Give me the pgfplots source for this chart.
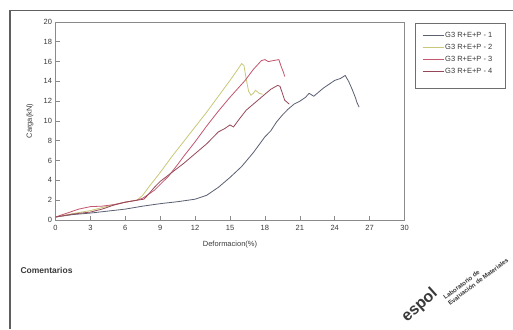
\documentclass[border=0pt]{standalone}
\usepackage{pgfplots}
\pgfplotsset{compat=1.18}
\usepackage{fontspec}
\setmainfont{Liberation Sans}
\definecolor{sOne}{HTML}{5A5F72}
\definecolor{sTwo}{HTML}{C8C878}
\definecolor{sThree}{HTML}{C4566E}
\definecolor{sFour}{HTML}{96485A}
\definecolor{axc}{HTML}{8A8A8A}
\definecolor{txt}{HTML}{3A3A3A}
\begin{document}
\begin{tikzpicture}[x=1pt,y=1pt]
\useasboundingbox (0,0) rectangle (513,329);
\fill[white] (0,0) rectangle (513,329);
\draw[color={rgb,255:red,95;green,95;blue,95}, line width=1.1pt] (10,0) -- (10,318.5) -- (513,318.5);
\begin{axis}[
  at={(55.5pt,109pt)}, anchor=south west,
  scale only axis, width=349pt, height=198pt,
  xmin=0, xmax=30, ymin=0, ymax=20,
  xtick={0,3,...,30}, ytick={0,2,...,20},
  axis line style={axc, line width=0.6pt},
  major tick style={axc, line width=0.6pt},
  major tick length=4pt,
  tick align=inside,
  xtick pos=bottom, ytick pos=left,
  ticklabel style={font=\fontsize{7.5}{9}\selectfont, text=txt},
  /pgf/number format/assume math mode=true,
  xticklabel style={yshift=-1.5pt},
  xlabel={Deformacion(\%)}, ylabel={Carga(kN)},
  label style={font=\fontsize{7.5}{9}\selectfont, text=txt},
  xlabel style={at={(axis description cs:0.5,0)}, anchor=center, yshift=-25pt},
  ylabel style={at={(axis description cs:0,0.5)}, anchor=center, yshift=25.5pt},
  legend style={at={(axis description cs:1.0501,0.955)}, anchor=north west, draw=none, fill=none,
    font=\fontsize{7.5}{9}\selectfont, text=txt, row sep=3pt, inner sep=0pt,
    nodes={text height=5.5pt, text depth=1pt, inner sep=1.2pt}},
  legend cell align=left,
  legend image code/.code={\draw[#1] (0pt,0pt) -- (21pt,0pt);},
]
\addplot[sOne, line width=0.8pt] coordinates {
(0,0.3)(1.5,0.55)(3,0.7)(4.5,0.9)(6,1.1)(7.5,1.4)(9,1.65)(10.5,1.85)(12,2.1)(13,2.5)
(14,3.3)(15,4.3)(16,5.4)(16.5,6.1)(17,6.8)(17.5,7.6)(18,8.4)(18.5,9.0)(19,9.9)(19.5,10.6)(20,11.2)
(20.5,11.7)(21,12.0)(21.5,12.4)(21.8,12.8)(22.2,12.5)(22.6,12.9)(23,13.3)(23.5,13.7)(24,14.1)(24.5,14.3)(24.9,14.6)
(25.2,14.0)(25.5,13.2)(25.8,12.3)(25.9,11.9)(26.1,11.4)};
\addlegendentry{G3 R+E+P - 1}
\addplot[sTwo, line width=0.8pt] coordinates {
(0,0.3)(1.5,0.65)(3,0.95)(4.5,1.4)(6,1.8)(7,2.0)(7.5,2.5)(8,3.3)(9,4.8)(10,6.4)(11,7.9)
(12,9.4)(13,10.9)(14,12.5)(15,14.1)(15.6,15.1)(16.0,15.8)(16.2,15.6)(16.4,14.2)(16.6,13.0)(16.8,12.6)
(17.0,12.8)(17.2,13.1)(17.5,12.8)(17.8,12.7)};
\addlegendentry{G3 R+E+P  - 2}
\addplot[sThree, line width=0.8pt] coordinates {
(0,0.3)(1,0.7)(2,1.1)(3,1.35)(4,1.4)(5,1.55)(6,1.8)(7,2.0)(7.5,2.2)(8,2.6)(8.5,3.0)(9,3.6)(9.7,4.4)
(10.5,5.6)(11,6.4)(12,7.9)(13,9.5)(14,11.0)(15,12.4)(16.3,14.1)(17,15.2)(17.7,16.1)(18.0,16.2)(18.3,16.0)
(18.7,16.1)(19.2,16.2)(19.4,15.5)(19.6,14.9)(19.7,14.5)};
\addlegendentry{G3 R+E+P - 3}
\addplot[sFour, line width=0.8pt] coordinates {
(0,0.3)(1.5,0.6)(3,0.8)(4,1.1)(5,1.5)(6,1.8)(7,2.0)(7.6,2.1)(8,2.6)(8.5,3.3)(9,3.9)(10,4.8)(11,5.7)
(12,6.7)(13,7.7)(14,8.9)(14.5,9.2)(15.0,9.6)(15.3,9.4)(15.8,10.2)(16.4,11.1)(17,11.7)(17.8,12.5)
(18.5,13.2)(19.1,13.6)(19.3,13.5)(19.5,12.8)(19.7,12.1)(20.0,11.8)(20.1,11.7)};
\addlegendentry{G3 R+E+P  - 4}
\end{axis}
\draw[color={rgb,255:red,110;green,110;blue,110}, line width=0.7pt] (415,241) rectangle (505.5,306);
\node[anchor=west, font=\bfseries\fontsize{8.5}{9}\selectfont, text=txt] at (17,59) {Comentarios};
\node[rotate=42, anchor=base west, inner sep=0pt, font=\bfseries\fontsize{16}{16}\selectfont, text=txt] at (407,6) {espol};
\node[rotate=37, anchor=south west, inner sep=0pt, font=\bfseries\fontsize{6.2}{7.5}\selectfont, text=txt, align=left] at (450,23) {Laboratorio de\\Evaluación de Materiales};
\end{tikzpicture}
\end{document}
